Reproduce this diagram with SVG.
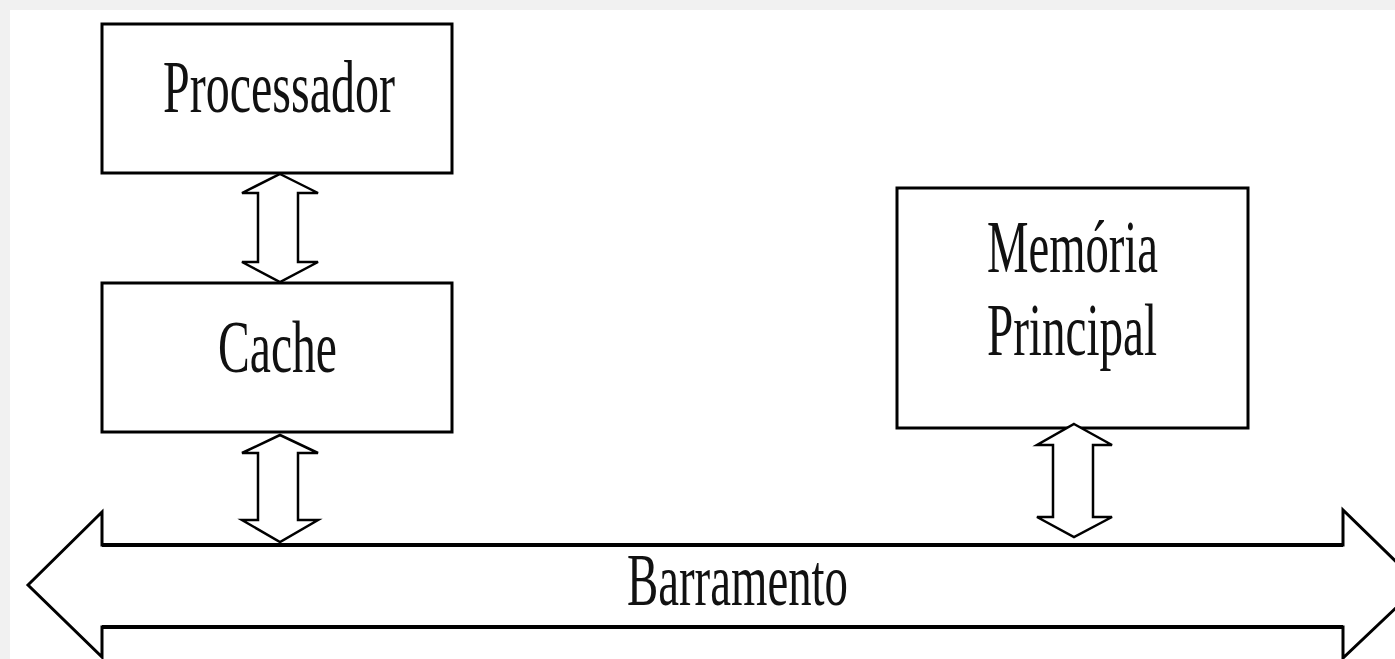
<svg xmlns="http://www.w3.org/2000/svg" width="1395" height="659" viewBox="0 0 1395 659">
<style>
.box{fill:#fff;stroke:#000;stroke-width:3}
.arr{fill:#fff;stroke:#000;stroke-width:2.5;stroke-linejoin:miter}
.lbl{font-family:"Liberation Serif","Times New Roman",serif;font-size:74px;fill:#111}
</style>
<rect x="0" y="0" width="1395" height="659" fill="#f1f1f1"/>
<rect x="10" y="10" width="1385" height="649" fill="#fff"/>
<g id="processador">
<rect class="box" x="102" y="24" width="350" height="149"/>
<text class="lbl" x="163" y="112" textLength="232" lengthAdjust="spacingAndGlyphs">Processador</text>
</g>
<g id="cache">
<rect class="box" x="102" y="283" width="350" height="149"/>
<text class="lbl" x="218" y="372" textLength="119" lengthAdjust="spacingAndGlyphs">Cache</text>
</g>
<g id="memoria">
<rect class="box" x="897" y="188" width="351" height="240"/>
<text class="lbl" x="987" y="272" textLength="171" lengthAdjust="spacingAndGlyphs">Memória</text>
<text class="lbl" x="987" y="355" textLength="170" lengthAdjust="spacingAndGlyphs">Principal</text>
</g>
<g id="barramento">
<path class="box" d="M28,585 L102,512 L102,545 L1343,545 L1343,510 L1420,585 L1343,658 L1343,627 L102,627 L102,657 Z"/>
<path d="M102,545 H1343 M102,627 H1343" stroke="#000" stroke-width="4" fill="none"/>
<text class="lbl" x="627" y="605" textLength="221" lengthAdjust="spacingAndGlyphs">Barramento</text>
</g>
<g id="connectors">
<path class="arr" d="M280,174 L318,193 L298,193 L298,262 L318,262 L280,282 L242,262 L258,262 L258,193 L242,193 Z"/>
<path class="arr" d="M280,435 L318,453 L298,453 L298,520 L318,520 L280,542 L242,520 L258,520 L258,453 L242,453 Z"/>
<path class="arr" d="M1074,424 L1112,445 L1093,445 L1093,517 L1112,517 L1074,537 L1037,517 L1053,517 L1053,445 L1037,445 Z"/>
</g>
</svg>
